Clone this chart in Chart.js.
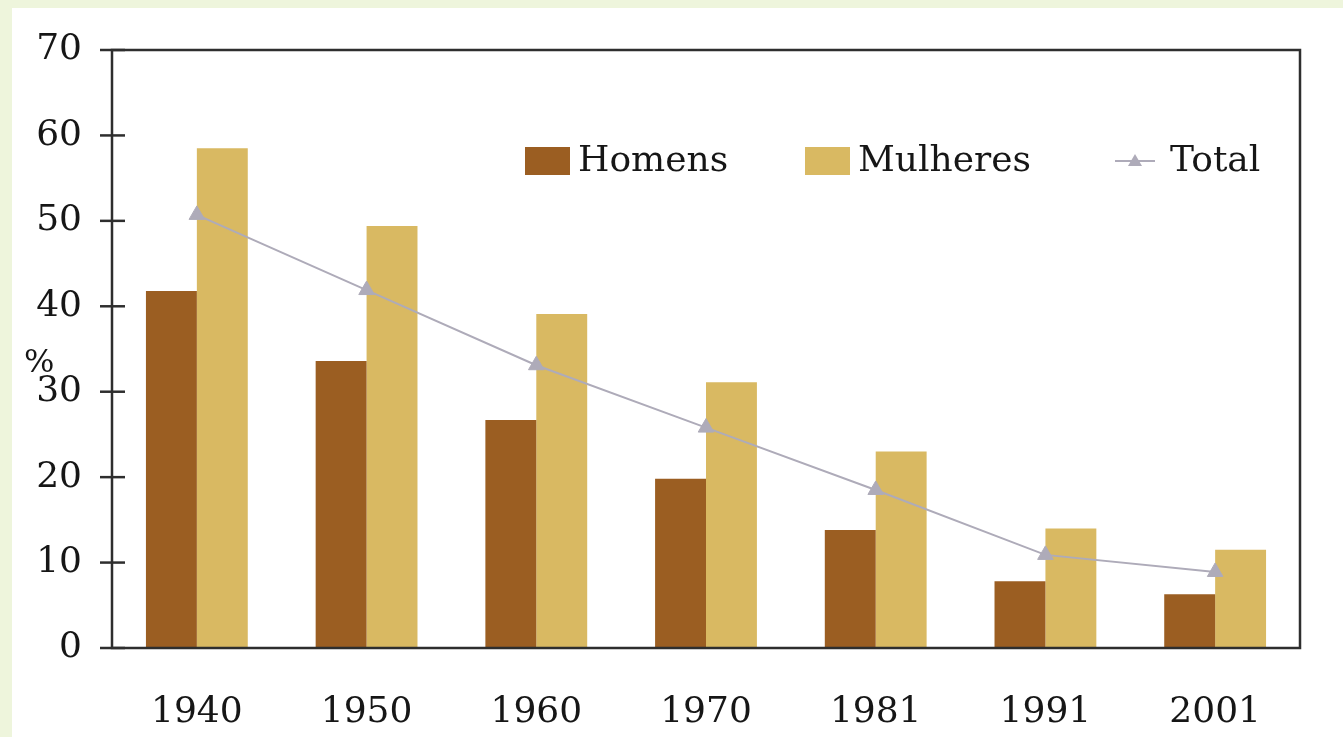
<!DOCTYPE html>
<html>
<head>
<meta charset="utf-8">
<script src="https://cdn.jsdelivr.net/npm/chart.js@4.4.1/dist/chart.umd.min.js"></script>
<style>
    html, body { margin: 0; padding: 0; }
    body { width: 1343px; height: 737px; background: #eef5dc; position: relative; overflow: hidden; }
    .frame { position: absolute; left: 12px; top: 8px; width: 1331px; height: 729px; background: #fff; }
</style>
</head>
<body>
<div class="frame"><canvas id="chart"></canvas></div>
<script>
const years = ['1940', '1950', '1960', '1970', '1981', '1991', '2001'];
const homens = [41.8, 33.6, 26.7, 19.8, 13.8, 7.8, 6.3];
const mulheres = [58.5, 49.4, 39.1, 31.1, 23.0, 14.0, 11.5];
const total = [50.7, 41.9, 33.1, 25.8, 18.5, 10.9, 8.9];
const yTicks = [0, 10, 20, 30, 40, 50, 60, 70];

const serif = '"DejaVu Serif", "Liberation Serif", serif';
const brown = '#9b5e22';
const sand = '#d9b962';
const grey = '#aeabb9';
const ink = '#161616';

// frame, ticks crossing the y axis, "%" label and the legend inside the plot
const decorations = {
    id: 'decorations',
    afterDatasetsDraw(chart) {
        const ctx = chart.ctx;
        const a = chart.chartArea;
        const y = chart.scales.y;
        ctx.save();
        ctx.strokeStyle = '#2e2e2e';
        ctx.lineWidth = 2.5;
        ctx.strokeRect(a.left, a.top, a.right - a.left, a.bottom - a.top);
        yTicks.forEach(v => {
            const py = y.getPixelForValue(v);
            ctx.beginPath();
            ctx.moveTo(a.left - 12, py);
            ctx.lineTo(a.left + 13, py);
            ctx.stroke();
        });

        ctx.fillStyle = ink;
        ctx.font = '32px ' + serif;
        ctx.textAlign = 'left';
        ctx.textBaseline = 'middle';
        ctx.fillText('%', 12, 356);

        // legend
        const items = [
            { x: 513, kind: 'box', color: brown, label: chart.data.datasets[0].label },
            { x: 793, kind: 'box', color: sand, label: chart.data.datasets[1].label },
            { x: 1103, kind: 'line', color: grey, label: chart.data.datasets[2].label }
        ];
        const ly = 153;
        ctx.font = '36px ' + serif;
        items.forEach(it => {
            if (it.kind === 'box') {
                ctx.fillStyle = it.color;
                ctx.fillRect(it.x, ly - 14, 45, 28);
                ctx.fillStyle = ink;
                ctx.fillText(it.label, it.x + 53, ly + 1);
            } else {
                ctx.strokeStyle = it.color;
                ctx.lineWidth = 2;
                ctx.beginPath();
                ctx.moveTo(it.x, ly);
                ctx.lineTo(it.x + 40, ly);
                ctx.stroke();
                ctx.fillStyle = it.color;
                ctx.beginPath();
                ctx.moveTo(it.x + 20, ly - 7);
                ctx.lineTo(it.x + 27, ly + 5);
                ctx.lineTo(it.x + 13, ly + 5);
                ctx.closePath();
                ctx.fill();
                ctx.fillStyle = ink;
                ctx.fillText(it.label, it.x + 55, ly + 1);
            }
        });
        ctx.restore();
    }
};

new Chart(document.getElementById('chart'), {
    data: {
        labels: years,
        datasets: [
            {
                type: 'bar',
                label: 'Homens',
                data: homens,
                backgroundColor: brown,
                categoryPercentage: 0.6,
                barPercentage: 1,
                order: 2
            },
            {
                type: 'bar',
                label: 'Mulheres',
                data: mulheres,
                backgroundColor: sand,
                categoryPercentage: 0.6,
                barPercentage: 1,
                order: 2
            },
            {
                type: 'line',
                label: 'Total',
                data: total,
                borderColor: grey,
                borderWidth: 2,
                backgroundColor: grey,
                pointStyle: 'triangle',
                pointRadius: 9,
                pointBorderWidth: 1,
                order: 1
            }
        ]
    },
    plugins: [decorations],
    options: {
        responsive: true,
        maintainAspectRatio: false,
        animation: false,
        layout: { padding: { top: 42, right: 43, left: 0, bottom: 0 } },
        plugins: {
            legend: { display: false },
            tooltip: { enabled: false }
        },
        scales: {
            x: {
                grid: { display: false, drawTicks: false },
                border: { display: false },
                ticks: { color: ink, font: { family: serif, size: 36 }, padding: 43 },
                afterFit: (scale) => { scale.height = 89; }
            },
            y: {
                min: 0,
                max: 70,
                grid: { display: false, drawTicks: false },
                border: { display: false },
                ticks: { stepSize: 10, color: ink, font: { family: serif, size: 36 }, padding: 30 },
                afterFit: (scale) => {
                    scale.width = 100;
                    scale.paddingTop = 0;
                    scale.paddingBottom = 0;
                }
            }
        }
    }
});
</script>
</body>
</html>
